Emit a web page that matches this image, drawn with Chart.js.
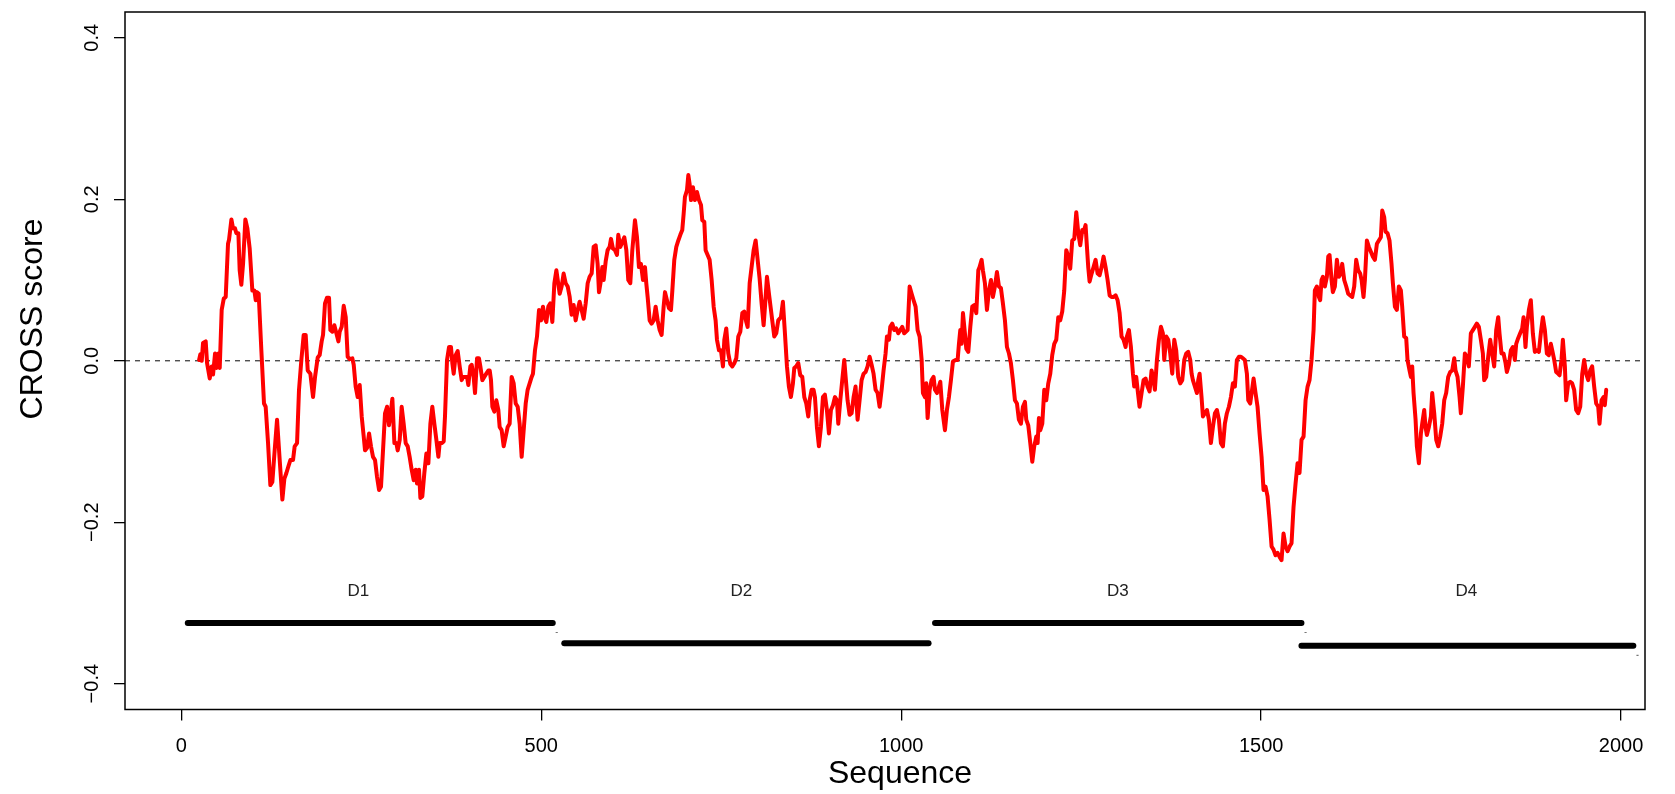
<!DOCTYPE html>
<html><head><meta charset="utf-8">
<script src="https://cdn.jsdelivr.net/npm/chart.js@4.4.1/dist/chart.umd.min.js"></script>
<style>html,body{margin:0;padding:0;background:#fff;}#wrap{width:1675px;height:794px;}</style>
</head><body><div id="wrap"><canvas id="c" width="1675" height="794"></canvas></div>
<script>
// [sequence position, CROSS score]
const traceD1 = [[24.7,0.001],[26.5,0.008],[28.4,0.000],[30.2,0.022],[33.9,0.024],[35.8,-0.003],[39.5,-0.022],[42.2,-0.007],[44.1,-0.017],[46.9,0.009],[48.7,-0.009],[51.5,0.009],[53.4,-0.009],[56.1,0.063],[59.0,0.077],[61.7,0.079],[64.9,0.145],[66.3,0.150],[69.6,0.175],[71.9,0.164],[74.6,0.164],[76.5,0.158],[79.3,0.158],[81.1,0.112],[83.4,0.094],[85.8,0.120],[89.0,0.175],[91.8,0.164],[95.0,0.139],[98.7,0.087],[101.5,0.087],[103.4,0.075],[105.2,0.085],[107.5,0.083],[111.2,0.013],[114.9,-0.053],[117.2,-0.057],[120.5,-0.102],[123.7,-0.154],[126.5,-0.150],[129.7,-0.111],[133.0,-0.073],[136.7,-0.123],[140.4,-0.172],[143.2,-0.146],[146.0,-0.139],[148.7,-0.131],[151.5,-0.123],[155.2,-0.123],[157.5,-0.106],[160.8,-0.102],[163.5,-0.036],[166.8,0.001],[170.0,0.032],[172.8,0.032],[175.6,-0.012],[179.3,-0.016],[183.0,-0.045],[185.8,-0.020],[189.5,0.004],[192.2,0.007],[195.0,0.024],[196.9,0.032],[199.6,0.071],[202.4,0.078],[205.2,0.078],[207.1,0.038],[209.8,0.036],[212.6,0.044],[215.4,0.034],[218.2,0.024],[220.0,0.036],[222.8,0.042],[225.6,0.068],[228.4,0.054],[231.1,0.005],[233.9,0.002],[237.6,0.003],[239.5,-0.005],[242.2,-0.032],[245.0,-0.045],[247.8,-0.030],[250.6,-0.069],[253.4,-0.094],[255.2,-0.111],[258.0,-0.108],[260.8,-0.090],[263.5,-0.106],[266.3,-0.119],[269.1,-0.123],[271.9,-0.144],[274.7,-0.160],[277.4,-0.156],[280.2,-0.111],[283.0,-0.065],[285.8,-0.057],[288.5,-0.080],[291.3,-0.061],[293.2,-0.047],[296.0,-0.102],[298.7,-0.102],[300.6,-0.111],[303.4,-0.098],[306.1,-0.057],[308.9,-0.078],[311.7,-0.102],[314.5,-0.106],[317.2,-0.119],[320.0,-0.135],[322.8,-0.148],[325.6,-0.135],[327.4,-0.152],[330.2,-0.135],[332.1,-0.170],[334.8,-0.168],[337.6,-0.139],[340.4,-0.115],[343.2,-0.127],[346.0,-0.078],[348.7,-0.057],[351.5,-0.078],[354.3,-0.098],[357.1,-0.119],[358.9,-0.102],[361.7,-0.102],[364.5,-0.100],[366.3,-0.069],[369.1,0.001],[371.9,0.017],[374.6,0.017],[376.5,-0.003],[378.4,-0.016],[381.1,0.007],[383.9,0.012],[386.7,-0.007],[389.5,-0.024],[391.3,-0.020],[394.1,-0.020],[396.9,-0.020],[398.7,-0.030],[401.5,-0.007],[403.4,-0.005],[406.1,-0.020],[408.0,-0.040],[410.8,0.003],[413.5,0.003],[415.4,-0.007],[418.2,-0.024],[420.9,-0.020],[423.7,-0.016],[426.5,-0.012],[428.4,-0.012],[430.2,-0.024],[432.1,-0.057],[434.8,-0.063],[437.6,-0.049],[440.4,-0.061],[442.2,-0.082],[445.0,-0.086],[447.8,-0.106],[450.6,-0.094],[453.4,-0.082],[456.1,-0.078],[458.9,-0.020],[461.7,-0.028],[464.5,-0.053],[467.3,-0.057],[470.0,-0.078],[472.8,-0.119],[475.6,-0.086],[478.4,-0.053],[481.1,-0.036],[483.9,-0.028],[486.7,-0.020],[488.5,-0.016],[491.3,0.013],[494.1,0.030],[496.9,0.063],[499.6,0.050],[502.4,0.067],[505.2,0.052],[507.1,0.048],[509.8,0.067],[512.6,0.071],[515.4,0.048],[518.2,0.096],[521.0,0.112]];
const traceD2 = [[525.6,0.083],[528.3,0.092],[531.1,0.108],[533.9,0.096],[536.7,0.092],[539.5,0.079],[542.2,0.057],[545.0,0.069],[547.8,0.050],[550.6,0.063],[553.3,0.073],[556.1,0.063],[558.9,0.052],[561.7,0.071],[564.5,0.096],[567.2,0.104],[570.0,0.108],[572.8,0.141],[575.6,0.143],[578.3,0.120],[580.2,0.085],[583.0,0.100],[584.8,0.116],[586.7,0.100],[589.5,0.123],[592.2,0.137],[595.0,0.141],[596.9,0.151],[599.6,0.139],[602.4,0.137],[605.2,0.131],[607.0,0.156],[609.8,0.141],[612.6,0.147],[615.4,0.153],[618.2,0.137],[620.9,0.100],[623.7,0.096],[626.5,0.137],[630.2,0.174],[633.0,0.153],[635.7,0.116],[638.5,0.120],[641.3,0.100],[644.1,0.116],[645.9,0.096],[647.8,0.079],[650.6,0.050],[653.3,0.046],[656.1,0.050],[658.9,0.067],[661.7,0.050],[664.5,0.038],[667.2,0.032],[670.0,0.067],[671.9,0.085],[674.6,0.075],[677.4,0.065],[680.2,0.063],[682.1,0.087],[684.8,0.125],[687.6,0.141],[690.4,0.149],[693.2,0.156],[695.9,0.162],[697.8,0.182],[699.6,0.203],[702.4,0.211],[704.3,0.230],[706.1,0.219],[708.0,0.199],[710.7,0.215],[713.5,0.199],[716.3,0.209],[719.1,0.199],[721.9,0.193],[723.7,0.174],[726.5,0.172],[728.3,0.137],[731.1,0.131],[733.9,0.125],[736.7,0.100],[739.5,0.067],[742.2,0.050],[744.1,0.026],[746.9,0.013],[749.6,0.013],[752.4,-0.007],[754.3,0.026],[757.0,0.040],[759.8,0.009],[762.6,-0.004],[765.4,-0.007],[768.2,-0.003],[770.9,0.003],[773.7,0.030],[776.5,0.036],[779.3,0.059],[782.0,0.061],[784.8,0.048],[786.7,0.042],[789.5,0.096],[792.2,0.116],[795.0,0.137],[797.8,0.149],[800.6,0.125],[803.3,0.102],[806.1,0.071],[808.9,0.044],[810.8,0.067],[813.5,0.104],[816.3,0.083],[820.9,0.050],[823.7,0.030],[826.5,0.034],[829.2,0.050],[832.9,0.054],[835.7,0.073],[838.5,0.034],[841.3,-0.007],[844.0,-0.032],[846.8,-0.045],[849.6,-0.028],[851.5,-0.009],[854.2,-0.007],[857.0,-0.003],[859.8,-0.018],[862.6,-0.020],[865.4,-0.045],[868.1,-0.053],[870.9,-0.069],[872.8,-0.049],[875.5,-0.036],[878.3,-0.036],[880.2,-0.045],[882.9,-0.082],[885.7,-0.106],[888.5,-0.082],[891.3,-0.045],[894.0,-0.042],[896.8,-0.061],[899.6,-0.090],[902.4,-0.061],[905.2,-0.055],[908.0,-0.045],[910.7,-0.049],[912.6,-0.078],[915.4,-0.049],[918.1,-0.024],[920.9,0.001],[922.8,-0.020],[925.5,-0.049],[928.3,-0.067],[931.1,-0.065],[933.9,-0.045],[936.6,-0.032],[939.4,-0.073],[942.2,-0.049],[945.0,-0.024],[947.8,-0.016],[950.5,-0.014],[953.3,-0.007],[956.1,0.005],[958.9,-0.005],[961.6,-0.016],[964.4,-0.036],[967.2,-0.040],[970.0,-0.057],[972.8,-0.036],[975.5,-0.012],[978.3,0.009],[980.2,0.030],[983.0,0.026],[984.8,0.042],[987.6,0.046],[990.4,0.038],[993.1,0.040],[995.9,0.034],[998.7,0.038],[1001.5,0.042],[1004.2,0.034],[1008.9,0.038],[1011.7,0.092],[1014.5,0.083],[1017.2,0.075],[1020.0,0.067],[1022.8,0.038],[1025.6,0.030],[1028.4,0.001],[1030.2,-0.040],[1033.0,-0.045],[1034.8,-0.028],[1036.7,-0.071],[1039.5,-0.036]];
const traceD3 = [[1042.2,-0.024],[1045.0,-0.020],[1046.9,-0.036],[1049.7,-0.040],[1052.4,-0.032],[1054.3,-0.026],[1057.1,-0.061],[1060.8,-0.086],[1063.5,-0.061],[1066.3,-0.045],[1069.1,-0.024],[1071.9,-0.001],[1075.6,0.001],[1078.4,0.001],[1080.2,0.021],[1082.1,0.038],[1083.9,0.021],[1085.8,0.059],[1088.5,0.034],[1090.4,0.015],[1093.2,0.011],[1096.0,0.042],[1098.7,0.067],[1101.5,0.069],[1104.3,0.059],[1107.1,0.112],[1108.9,0.116],[1111.7,0.125],[1113.5,0.112],[1116.3,0.096],[1119.1,0.063],[1121.9,0.087],[1124.7,0.100],[1127.4,0.079],[1130.2,0.092],[1133.0,0.110],[1135.8,0.092],[1138.5,0.090],[1141.3,0.071],[1144.1,0.050],[1146.9,0.017],[1149.7,0.009],[1152.4,-0.003],[1155.2,-0.024],[1158.0,-0.049],[1160.8,-0.053],[1163.5,-0.073],[1166.3,-0.078],[1169.1,-0.057],[1171.9,-0.051],[1173.7,-0.073],[1176.5,-0.080],[1179.3,-0.102],[1182.1,-0.125],[1184.8,-0.106],[1187.6,-0.094],[1189.5,-0.102],[1191.3,-0.071],[1193.2,-0.086],[1196.0,-0.078],[1198.7,-0.036],[1201.5,-0.049],[1204.3,-0.028],[1207.1,-0.016],[1209.8,0.007],[1212.6,0.021],[1215.4,0.026],[1218.2,0.054],[1220.9,0.050],[1223.7,0.061],[1226.5,0.087],[1229.3,0.137],[1232.1,0.129],[1234.8,0.114],[1237.6,0.149],[1240.4,0.151],[1243.2,0.184],[1246.0,0.158],[1248.7,0.143],[1251.5,0.162],[1253.4,0.160],[1256.1,0.168],[1258.0,0.141],[1259.8,0.116],[1261.7,0.098],[1264.5,0.108],[1267.2,0.116],[1270.0,0.125],[1272.8,0.108],[1275.6,0.106],[1278.4,0.116],[1281.1,0.129],[1283.9,0.116],[1286.7,0.100],[1289.5,0.081],[1292.2,0.079],[1295.0,0.079],[1297.8,0.081],[1300.6,0.075],[1303.4,0.059],[1306.1,0.030],[1308.9,0.026],[1311.7,0.017],[1313.5,0.030],[1316.3,0.038],[1319.1,0.017],[1321.9,-0.016],[1323.7,-0.032],[1326.5,-0.020],[1328.4,-0.036],[1331.1,-0.057],[1333.9,-0.040],[1336.7,-0.024],[1339.5,-0.022],[1342.2,-0.032],[1345.0,-0.038],[1347.8,-0.012],[1350.6,-0.024],[1352.4,-0.036],[1355.2,0.001],[1358.0,0.026],[1360.8,0.042],[1363.5,0.034],[1365.4,0.001],[1368.2,0.030],[1370.9,0.026],[1373.7,0.009],[1376.5,-0.016],[1379.3,0.026],[1382.0,0.013],[1384.8,-0.020],[1387.6,-0.028],[1390.4,-0.024],[1393.2,0.001],[1395.9,0.009],[1398.7,0.011],[1401.5,0.001],[1403.4,-0.016],[1405.2,-0.024],[1408.0,-0.032],[1410.8,-0.040],[1412.6,-0.024],[1414.5,-0.016],[1417.2,-0.045],[1419.1,-0.069],[1421.9,-0.065],[1424.7,-0.061],[1427.4,-0.073],[1430.2,-0.102],[1433.0,-0.082],[1435.8,-0.065],[1438.5,-0.061],[1441.3,-0.073],[1444.1,-0.102],[1446.9,-0.106],[1449.6,-0.078],[1452.4,-0.065],[1455.2,-0.057],[1458.0,-0.045],[1460.8,-0.028],[1463.5,-0.032],[1466.3,0.001],[1469.1,0.005],[1471.9,0.005],[1474.6,0.003],[1477.4,0.001],[1480.2,-0.016],[1482.1,-0.049],[1484.8,-0.053],[1489.5,-0.022],[1492.2,-0.040],[1495.0,-0.057],[1497.8,-0.090],[1500.6,-0.119],[1503.3,-0.160],[1506.1,-0.156],[1508.9,-0.168],[1511.7,-0.197],[1514.5,-0.230],[1517.2,-0.234],[1520.0,-0.241],[1522.8,-0.238],[1525.6,-0.243],[1528.3,-0.247],[1531.1,-0.214],[1533.9,-0.230],[1536.7,-0.236],[1539.5,-0.230],[1542.2,-0.226],[1545.0,-0.181],[1547.8,-0.152],[1550.6,-0.127],[1553.3,-0.139]];
const traceD4 = [[1556.1,-0.098],[1558.9,-0.094],[1561.7,-0.049],[1564.5,-0.032],[1567.2,-0.024],[1570.0,0.001],[1572.8,0.038],[1574.6,0.087],[1577.4,0.092],[1580.2,0.079],[1582.0,0.075],[1583.9,0.100],[1585.8,0.104],[1588.5,0.092],[1591.3,0.104],[1593.2,0.129],[1595.0,0.131],[1597.8,0.100],[1599.6,0.085],[1602.4,0.092],[1605.2,0.125],[1608.0,0.104],[1610.7,0.108],[1612.6,0.120],[1615.4,0.100],[1618.2,0.092],[1620.9,0.083],[1623.7,0.081],[1626.5,0.079],[1629.3,0.092],[1632.0,0.125],[1634.8,0.112],[1637.6,0.108],[1639.5,0.100],[1642.2,0.079],[1644.1,0.100],[1646.9,0.149],[1649.6,0.141],[1652.4,0.135],[1655.2,0.129],[1658.0,0.125],[1660.8,0.145],[1663.5,0.149],[1666.3,0.153],[1668.2,0.186],[1670.9,0.178],[1672.8,0.160],[1675.6,0.158],[1678.3,0.149],[1681.1,0.120],[1683.0,0.096],[1685.8,0.067],[1688.5,0.063],[1691.3,0.092],[1694.1,0.087],[1695.9,0.067],[1698.7,0.030],[1701.5,0.028],[1703.3,0.001],[1706.1,-0.012],[1708.0,-0.020],[1709.8,-0.007],[1711.7,-0.040],[1714.5,-0.073],[1716.3,-0.106],[1719.1,-0.127],[1721.9,-0.090],[1723.7,-0.078],[1726.5,-0.061],[1728.3,-0.082],[1730.2,-0.092],[1733.0,-0.082],[1735.8,-0.069],[1737.6,-0.040],[1740.4,-0.065],[1743.2,-0.098],[1746.0,-0.106],[1748.7,-0.094],[1751.5,-0.078],[1754.3,-0.049],[1757.0,-0.040],[1759.8,-0.020],[1762.6,-0.014],[1765.4,-0.012],[1768.2,0.003],[1770.0,-0.012],[1772.8,-0.020],[1775.6,-0.045],[1777.4,-0.065],[1780.2,-0.032],[1783.0,0.009],[1785.7,0.005],[1788.5,-0.007],[1791.3,0.034],[1794.1,0.038],[1796.9,0.042],[1799.6,0.046],[1802.4,0.042],[1805.2,0.026],[1808.0,0.009],[1809.8,-0.024],[1812.6,-0.020],[1815.4,0.005],[1818.2,0.026],[1820.9,0.009],[1823.7,-0.007],[1826.5,0.038],[1829.3,0.054],[1831.1,0.034],[1833.9,0.009],[1836.7,0.009],[1839.5,-0.003],[1841.3,-0.014],[1844.1,-0.005],[1846.9,0.013],[1849.6,0.017],[1852.4,0.001],[1854.3,0.021],[1857.0,0.028],[1859.8,0.034],[1862.6,0.040],[1864.5,0.054],[1867.2,0.017],[1869.1,0.042],[1871.9,0.063],[1874.6,0.075],[1877.4,0.034],[1880.2,0.011],[1883.0,0.013],[1885.8,0.011],[1888.5,0.034],[1891.3,0.054],[1894.1,0.038],[1896.9,0.009],[1899.6,0.007],[1902.4,0.021],[1904.3,0.013],[1907.1,0.001],[1909.8,-0.014],[1912.6,-0.016],[1914.5,-0.018],[1917.2,0.001],[1919.1,0.026],[1921.9,-0.007],[1923.7,-0.049],[1926.5,-0.028],[1929.3,-0.026],[1932.0,-0.028],[1934.8,-0.036],[1937.6,-0.061],[1940.4,-0.065],[1943.2,-0.057],[1946.0,-0.016],[1948.7,0.001],[1951.5,-0.016],[1954.3,-0.024],[1957.1,-0.012],[1959.8,-0.007],[1962.6,-0.032],[1965.4,-0.053],[1968.2,-0.057],[1970.0,-0.078],[1972.8,-0.049],[1975.6,-0.045],[1977.4,-0.055],[1979.3,-0.036]];

const domainNames = ['D1','D2','D3','D4'];
const domainStart = [9, 532, 1047, 1556];
const domainEnd = [516, 1038, 1556, 2017];
const domainLevel = [-0.325, -0.35, -0.325, -0.353];
const domainLabelPos = [246, 778, 1301, 1785];
const domainLabelLevel = -0.286;
const endMarkPos = [521.5, 1561.7, 2022.8];
const endMarkLevel = [-0.3366, -0.3366, -0.365];
const xTickValues = [0, 500, 1000, 1500, 2000];
const yTickValues = [-0.4, -0.2, 0.0, 0.2, 0.4];
const xLimits = [-78.2, 2033.2];
const yLimits = [-0.432, 0.432];
const referenceLevel = 0;
const xTitle = 'Sequence';
const yTitle = 'CROSS score';

const FONT = '"Liberation Sans", Arial, Helvetica, sans-serif';
const trace = [].concat(traceD1, traceD2, traceD3, traceD4);
const fmtY = v => (v < 0 ? '\u2212' : '') + Math.abs(v).toFixed(1);

const decor = {
  id: 'decor',
  beforeDatasetsDraw(chart) {
    const {ctx, chartArea: a, scales: {y}} = chart;
    const py = y.getPixelForValue(referenceLevel);
    ctx.save();
    ctx.strokeStyle = '#333'; ctx.lineWidth = 1.2; ctx.setLineDash([5, 5]);
    ctx.beginPath(); ctx.moveTo(a.left, py); ctx.lineTo(a.right, py); ctx.stroke();
    ctx.restore();
  },
  afterDatasetsDraw(chart) {
    const {ctx, chartArea: a, scales: {x, y}} = chart;
    ctx.save();
    ctx.strokeStyle = '#000'; ctx.lineWidth = 1.5;
    ctx.strokeRect(a.left, a.top, a.right - a.left, a.bottom - a.top);
    ctx.fillStyle = '#222'; ctx.font = '17px ' + FONT;
    ctx.textAlign = 'center'; ctx.textBaseline = 'middle';
    domainNames.forEach((n, i) => ctx.fillText(n, x.getPixelForValue(domainLabelPos[i]), y.getPixelForValue(domainLabelLevel)));
    ctx.fillStyle = '#000'; ctx.font = '20px ' + FONT;
    yTickValues.forEach(v => {
      ctx.save();
      ctx.translate(a.left - 27, y.getPixelForValue(v));
      ctx.rotate(-Math.PI / 2);
      ctx.textAlign = 'center'; ctx.textBaseline = 'alphabetic';
      ctx.fillText(fmtY(v), 0, 0);
      ctx.restore();
    });
    ctx.font = '32px ' + FONT;
    ctx.save();
    ctx.translate(42, 319);
    ctx.rotate(-Math.PI / 2);
    ctx.textAlign = 'center'; ctx.textBaseline = 'alphabetic';
    ctx.fillText(yTitle, 0, 0);
    ctx.restore();
    ctx.textAlign = 'center'; ctx.textBaseline = 'alphabetic';
    ctx.fillText(xTitle, 900, 783);
    ctx.restore();
  }
};

new Chart(document.getElementById('c'), {
  type: 'line',
  data: {
    datasets: [
      {label: 'CROSS score', data: trace.map(([p, s]) => ({x: p, y: s})), borderColor: '#ff0000', borderWidth: 4,
       pointRadius: 0, tension: 0, borderJoinStyle: 'round', borderCapStyle: 'round', fill: false},
      ...domainNames.map((n, i) => ({label: n, data: [{x: domainStart[i], y: domainLevel[i]}, {x: domainEnd[i], y: domainLevel[i]}],
        borderColor: '#000', borderWidth: 6, borderCapStyle: 'round', pointRadius: 0, fill: false})),
      ...endMarkPos.map((p, i) => ({label: 'mark' + i, data: [{x: p - 1.5, y: endMarkLevel[i]}, {x: p + 1.5, y: endMarkLevel[i]}],
        borderColor: '#777', borderWidth: 1.2, pointRadius: 0, fill: false}))
    ]
  },
  options: {
    responsive: false, maintainAspectRatio: false, animation: false, devicePixelRatio: 1,
    layout: {padding: {left: 0, top: 12, right: 30, bottom: 0}},
    plugins: {legend: {display: false}, tooltip: {enabled: false}},
    scales: {
      x: {
        type: 'linear', min: xLimits[0], max: xLimits[1],
        afterBuildTicks: s => { s.ticks = xTickValues.map(v => ({value: v})); },
        afterFit: s => { s.height = 84.5; },
        grid: {drawOnChartArea: false, drawTicks: true, tickLength: 11, color: '#000', lineWidth: 1.3},
        border: {display: false},
        ticks: {autoSkip: false, maxRotation: 0, minRotation: 0, padding: 14, color: '#000',
                font: {family: FONT, size: 20}, callback: v => String(v)}
      },
      y: {
        type: 'linear', min: yLimits[0], max: yLimits[1],
        afterBuildTicks: s => { s.ticks = yTickValues.map(v => ({value: v})); },
        afterFit: s => { s.width = 125; },
        grid: {drawOnChartArea: false, drawTicks: true, tickLength: 11, color: '#000', lineWidth: 1.3},
        border: {display: false},
        ticks: {display: false}
      }
    }
  },
  plugins: [decor]
});
</script>
</body></html>
